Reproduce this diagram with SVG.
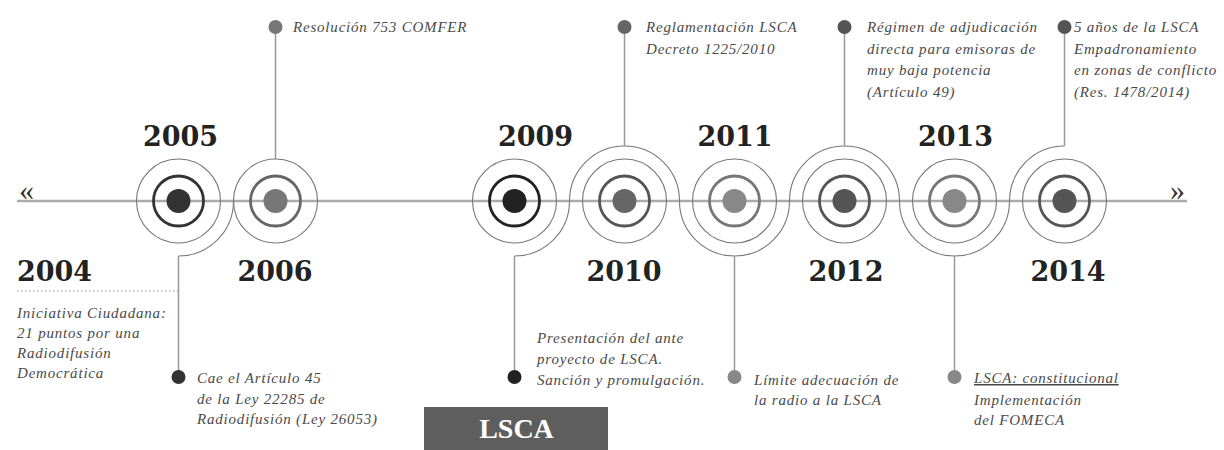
<svg xmlns="http://www.w3.org/2000/svg" width="1224" height="450" viewBox="0 0 1224 450">
<style>
.bg{fill:#ffffff}
.outer{fill:none;stroke:#777;stroke-width:1.1}
.ring{fill:none;stroke-width:2.8}
.year{font-family:"DejaVu Serif",serif;font-weight:bold;font-size:27px;fill:#222;text-anchor:middle}
.lbl{font-family:"Liberation Serif",serif;font-style:italic;font-size:15px;letter-spacing:0.8px;fill:#4a4a4a}
.vline{stroke:#999;stroke-width:1.5;fill:none}
.arc{fill:none;stroke:#777;stroke-width:1.1}
.chev{font-family:"Liberation Serif",serif;font-size:30px;fill:#333}
</style>
<rect class="bg" x="0" y="0" width="1224" height="450"/>
<g id="connectors">
<line x1="17" y1="201" x2="1187" y2="201" stroke="#aaa" stroke-width="2.5"/>
<path class="arc" d="M178.5,256 A55,55 0 0 0 233.5,201"/>
<path class="arc" d="M514.5,256 A55,55 0 0 0 569.5,201 A55,55 0 0 1 679.5,201 A55,55 0 0 0 789.5,201 A55,55 0 0 1 899.5,201 A55,55 0 0 0 1009.5,201 A55,55 0 0 1 1064.5,146"/>
<line class="vline" x1="178.5" y1="256" x2="178.5" y2="377"/>
<line class="vline" x1="275.5" y1="159" x2="275.5" y2="27"/>
<line class="vline" x1="514.5" y1="256" x2="514.5" y2="377"/>
<line class="vline" x1="624.5" y1="146" x2="624.5" y2="27"/>
<line class="vline" x1="734.5" y1="256" x2="734.5" y2="377"/>
<line class="vline" x1="844.5" y1="146" x2="844.5" y2="27"/>
<line class="vline" x1="954.5" y1="256" x2="954.5" y2="377"/>
<line class="vline" x1="1064.5" y1="146" x2="1064.5" y2="27"/>
<line x1="17" y1="291" x2="178" y2="291" stroke="#888" stroke-width="1.2" stroke-dasharray="1.5 2.5"/>
</g>
<g id="arrows">
<text class="chev" x="19" y="200">«</text>
<text class="chev" x="1170" y="200">»</text>
</g>
<g id="node-2004">
<text class="year" x="17" y="281" style="text-anchor:start">2004</text>
<text class="lbl" x="17" y="318">Iniciativa Ciudadana:</text>
<text class="lbl" x="17" y="338">21 puntos por una</text>
<text class="lbl" x="17" y="358">Radiodifusión</text>
<text class="lbl" x="17" y="378">Democrática</text>
</g>
<g id="node-2005">
<circle class="outer" cx="178.5" cy="201" r="42"/>
<circle class="ring" cx="178.5" cy="201" r="25" stroke="#333"/>
<circle cx="178.5" cy="201" r="12" fill="#333"/>
<circle cx="178.5" cy="377" r="7" fill="#333"/>
<text class="year" x="180.5" y="146">2005</text>
<text class="lbl" x="197" y="383">Cae el Artículo 45</text>
<text class="lbl" x="197" y="404">de la Ley 22285 de</text>
<text class="lbl" x="197" y="424">Radiodifusión (Ley 26053)</text>
</g>
<g id="node-2006">
<circle class="outer" cx="275.5" cy="201" r="42"/>
<circle class="ring" cx="275.5" cy="201" r="25" stroke="#666"/>
<circle cx="275.5" cy="201" r="12" fill="#777"/>
<circle cx="275.5" cy="27" r="7" fill="#777"/>
<text class="year" x="275" y="281">2006</text>
<text class="lbl" x="293" y="32">Resolución 753 COMFER</text>
</g>
<g id="node-2009">
<circle class="outer" cx="514.5" cy="201" r="42"/>
<circle class="ring" cx="514.5" cy="201" r="25" stroke="#222"/>
<circle cx="514.5" cy="201" r="12" fill="#222"/>
<circle cx="514.5" cy="377" r="7" fill="#222"/>
<text class="year" x="535.5" y="146">2009</text>
<text class="lbl" x="537" y="343">Presentación del ante</text>
<text class="lbl" x="537" y="364">proyecto de LSCA.</text>
<text class="lbl" x="537" y="385">Sanción y promulgación.</text>
</g>
<g id="node-2010">
<circle class="outer" cx="624.5" cy="201" r="42"/>
<circle class="ring" cx="624.5" cy="201" r="25" stroke="#555"/>
<circle cx="624.5" cy="201" r="12" fill="#666"/>
<circle cx="624.5" cy="27" r="7" fill="#666"/>
<text class="year" x="624" y="281">2010</text>
<text class="lbl" x="646" y="32">Reglamentación LSCA</text>
<text class="lbl" x="646" y="54">Decreto 1225/2010</text>
</g>
<g id="node-2011">
<circle class="outer" cx="734.5" cy="201" r="42"/>
<circle class="ring" cx="734.5" cy="201" r="25" stroke="#777"/>
<circle cx="734.5" cy="201" r="12" fill="#888"/>
<circle cx="734.5" cy="377" r="7" fill="#888"/>
<text class="year" x="735" y="146">2011</text>
<text class="lbl" x="754" y="385">Límite adecuación de</text>
<text class="lbl" x="754" y="405">la radio a la LSCA</text>
</g>
<g id="node-2012">
<circle class="outer" cx="844.5" cy="201" r="42"/>
<circle class="ring" cx="844.5" cy="201" r="25" stroke="#555"/>
<circle cx="844.5" cy="201" r="12" fill="#555"/>
<circle cx="844.5" cy="27" r="7" fill="#555"/>
<text class="year" x="846" y="281">2012</text>
<text class="lbl" x="867" y="32">Régimen de adjudicación</text>
<text class="lbl" x="867" y="53.5">directa para emisoras de</text>
<text class="lbl" x="867" y="75">muy baja potencia</text>
<text class="lbl" x="867" y="96.5">(Artículo 49)</text>
</g>
<g id="node-2013">
<circle class="outer" cx="954.5" cy="201" r="42"/>
<circle class="ring" cx="954.5" cy="201" r="25" stroke="#777"/>
<circle cx="954.5" cy="201" r="12" fill="#888"/>
<circle cx="954.5" cy="377" r="7" fill="#888"/>
<text class="year" x="955.5" y="146">2013</text>
<text class="lbl" x="974" y="383" text-decoration="underline">LSCA: constitucional</text>
<text class="lbl" x="974" y="405">Implementación</text>
<text class="lbl" x="974" y="425">del FOMECA</text>
</g>
<g id="node-2014">
<circle class="outer" cx="1064.5" cy="201" r="42"/>
<circle class="ring" cx="1064.5" cy="201" r="25" stroke="#555"/>
<circle cx="1064.5" cy="201" r="12" fill="#555"/>
<circle cx="1064.5" cy="27" r="7" fill="#555"/>
<text class="year" x="1068" y="281">2014</text>
<text class="lbl" x="1074" y="32">5 años de la LSCA</text>
<text class="lbl" x="1074" y="53.5">Empadronamiento</text>
<text class="lbl" x="1074" y="75">en zonas de conflicto</text>
<text class="lbl" x="1074" y="96.5">(Res. 1478/2014)</text>
</g>
<g id="lsca-box">
<rect x="424" y="407" width="184" height="43" fill="#5e5e5e"/>
<text x="516.5" y="438" font-family="Liberation Serif, serif" font-weight="bold" font-size="28" fill="#fff" text-anchor="middle">LSCA</text>
</g>
</svg>
